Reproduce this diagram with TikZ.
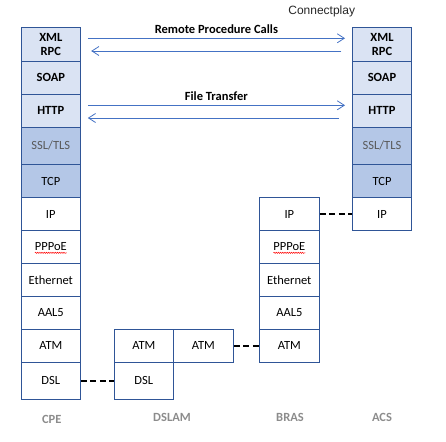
\documentclass[tikz,border=0pt]{standalone}
\usepackage{fontspec}
\setmainfont{Carlito}
\newfontfamily\arialfont{Liberation Sans}
\usetikzlibrary{arrows.meta,decorations.pathmorphing}
\definecolor{boxline}{HTML}{2F5597}
\definecolor{lightfill}{HTML}{DAE3F3}
\definecolor{darkfill}{HTML}{B4C7E7}
\definecolor{msgblue}{HTML}{4472C4}
\definecolor{greytext}{HTML}{595959}
\definecolor{colname}{HTML}{8C8C8C}
\begin{document}
\begin{tikzpicture}[x=1pt,y=-1pt,font=\fontsize{12.5}{14}\selectfont,
	layer/.style={draw=boxline,line width=1pt,fill=white,minimum width=59pt,minimum height=33pt,inner sep=0pt,align=center},
	app/.style={fill=lightfill,font=\fontsize{12.5}{14}\selectfont\bfseries},
	sec/.style={fill=darkfill,text=greytext},
	tport/.style={fill=darkfill},
	plain/.style={},
	link/.style={black,line width=2pt,dash pattern=on 6pt off 3.5pt},
	msg/.style={msgblue,line width=0.8pt,-{Straight Barb[length=7pt,width=9pt]}},
	msgtext/.style={text=black,font=\fontsize{12.5}{14}\selectfont\bfseries},
	colname/.style={text=colname,font=\fontsize{12.5}{14}\selectfont\bfseries}]
	\useasboundingbox (0,0) rectangle (446,441);
	% upper layers, CPE and ACS
	\foreach \c/\x in {cpe/50.8,acs/382}
	{\foreach \n/\t/\y/\h/\s in {xml/{XML\\RPC}/44.3/34/app, soap/SOAP/77.8/33/app, http/HTTP/110.8/33/app, ssl/{SSL/TLS}/145.8/37/sec, tcp/TCP/181/33.4/tport, ip/IP/214/32.6/plain}
		\node[layer,\s,minimum height=\h] (\c-\n) at (\x,\y) {\t};}
	% lower layers, CPE and BRAS
	\node[layer,minimum width=60pt,minimum height=32.6] (bras-ip) at (289.3,214) {IP};
	\foreach \c/\x/\w in {cpe/50.8/59,bras/289.3/60}
	{\foreach \n/\t/\y in {pppoe/PPPoE/246.8, eth/Ethernet/279.8, aal/AAL5/312.8, atm/ATM/345.8}
		\node[layer,minimum width=\w] (\c-\n) at (\x,\y) {\t};}
	\node[layer,minimum height=37] (cpe-dsl) at (50.8,380.8) {DSL};
	% DSLAM
	\node[layer] (dslam-atm1) at (143.8,345.8) {ATM};
	\node[layer,minimum width=60pt] (dslam-atm2) at (203.3,345.8) {ATM};
	\node[layer,minimum height=37] (dslam-dsl) at (143.8,380.8) {DSL};
	% spell check marks
	\foreach \c in {cpe,bras}
	\draw[red,line width=0.5pt,decorate,decoration={snake,amplitude=0.6pt,segment length=2.2pt}]
		([xshift=-16pt,yshift=-6pt]\c-pppoe.center) -- ([xshift=16pt,yshift=-6pt]\c-pppoe.center);
	% peer links
	\draw[link] (cpe-dsl) -- (dslam-dsl);
	\draw[link] (dslam-atm2) -- (bras-atm);
	\draw[link] (bras-ip) -- (acs-ip);
	% messages
	\draw[msg] ([xshift=7pt,yshift=6pt]cpe-xml.east) -- ([xshift=-7pt,yshift=6pt]acs-xml.west)
		node[midway,above=1pt,msgtext] (rpc) {Remote Procedure Calls};
	\draw[msg] ([xshift=-10.6pt,yshift=-6.7pt]acs-xml.west) -- ([xshift=10.4pt,yshift=-6.7pt]cpe-xml.east);
	\draw[msg] ([xshift=7pt,yshift=5.5pt]cpe-http.east) -- ([xshift=-7pt,yshift=5.5pt]acs-http.west)
		node[midway,above=1pt,msgtext] (ft) {File Transfer};
	\draw[msg] ([xshift=-13pt,yshift=-7.2pt]acs-http.west) -- ([xshift=7pt,yshift=-7.2pt]cpe-http.east);
	% names
	\node[font=\arialfont\fontsize{12}{14}\selectfont,text=black!85] (cplay) at (321.7,11.7) {Connectplay};
	\node[colname] (n-cpe) at (51.7,419) {CPE};
	\node[colname] (n-dslam) at (172,417) {DSLAM};
	\node[colname] (n-bras) at (290,417) {BRAS};
	\node[colname] (n-acs) at (382,417) {ACS};
\end{tikzpicture}
\end{document}
